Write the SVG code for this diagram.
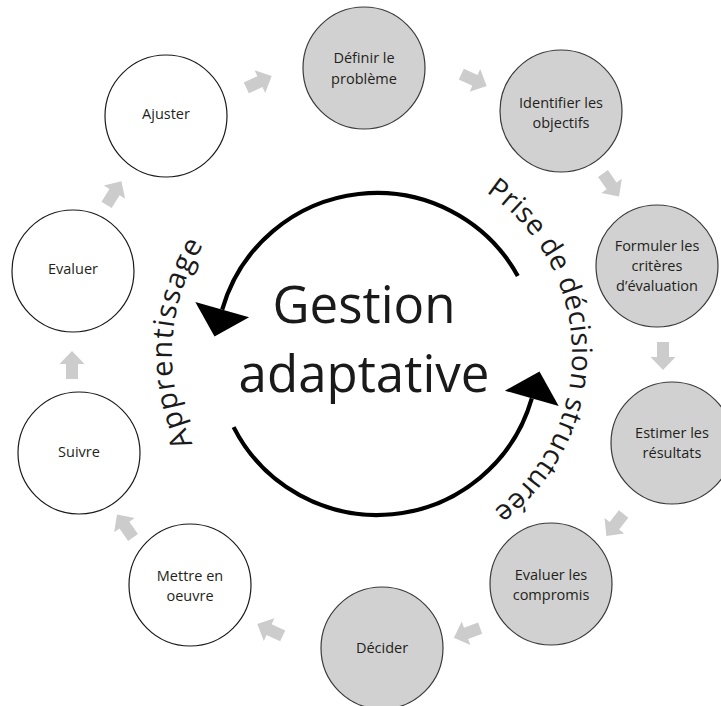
<svg xmlns="http://www.w3.org/2000/svg" xmlns:xlink="http://www.w3.org/1999/xlink" width="721" height="706" viewBox="0 0 721 706">
<style>
.w{fill:#ffffff;stroke:#1a1a1a;stroke-width:1.2}
.g{fill:#d1d1d1;stroke:#3a3a3a;stroke-width:1.2}
.t{font-family:'Open Sans','Noto Sans',sans-serif;font-size:14.5px;fill:#231f20;text-anchor:middle}
.big{font-family:'Open Sans','Noto Sans',sans-serif;font-size:51px;fill:#1a1a1a;text-anchor:middle}
.arc{font-family:'Open Sans','Noto Sans',sans-serif;font-size:28px;fill:#1a1a1a}
.ring{fill:none;stroke:#000;stroke-width:4.2}
.ga{fill:#cccccc}
</style>
<defs>
<polygon id="ga" points="-14,-6 1,-6 1,-12.5 14,0 1,12.5 1,6 -14,6"/>
<path id="prisePath" d="M 486 192.3 A 195 195 0 0 1 474.5 522.9"/>
<path id="apprPath" d="M 192.75 443.87 A 205 205 0 0 1 219.96 222.23"/>
</defs>
<rect width="721" height="706" fill="#ffffff"/>

<g id="connectors">
<g class="ga">
<use xlink:href="#ga" transform="translate(259,82) rotate(-25)"/>
<use xlink:href="#ga" transform="translate(474,80) rotate(25)"/>
<use xlink:href="#ga" transform="translate(611,185) rotate(55)"/>
<use xlink:href="#ga" transform="translate(663,356) rotate(90)"/>
<use xlink:href="#ga" transform="translate(615,525) rotate(128)"/>
<use xlink:href="#ga" transform="translate(467,633) rotate(160)"/>
<use xlink:href="#ga" transform="translate(270,630) rotate(205)"/>
<use xlink:href="#ga" transform="translate(125,526) rotate(235)"/>
<use xlink:href="#ga" transform="translate(72,365) rotate(270)"/>
<use xlink:href="#ga" transform="translate(114,193) rotate(302)"/>
</g>
<path class="ring" d="M 517.8 275.9 A 161 161 0 0 0 222.2 309.6"/>
<polygon points="195.3,301.9 249.1,317.3 214.5,336.5" fill="#000"/>
<path class="ring" d="M 233.6 427.1 A 161 161 0 0 0 531.8 398.4"/>
<polygon points="504.9,390.7 558.7,406.1 539.5,371.5" fill="#000"/>
</g>

<g id="center-title">
<text class="big" x="364" y="323">Gestion</text>
<text class="big" x="364" y="392">adaptative</text>
</g>
<g id="label-prise">
<text class="arc"><textPath xlink:href="#prisePath" textLength="372" lengthAdjust="spacing">Prise de décision structurée</textPath></text>
</g>
<g id="label-apprentissage">
<text class="arc" style="font-size:29px"><textPath xlink:href="#apprPath" textLength="208" lengthAdjust="spacing">Apprentissage</textPath></text>
</g>

<g id="node-definir"><circle class="g" cx="364" cy="68" r="61"/><text class="t" x="364" y="63">Définir le</text><text class="t" x="364" y="84">problème</text></g>
<g id="node-identifier"><circle class="g" cx="561" cy="111" r="61"/><text class="t" x="561" y="108">Identifier les</text><text class="t" x="561" y="128">objectifs</text></g>
<g id="node-formuler"><circle class="g" cx="657" cy="266" r="61"/><text class="t" x="657" y="251">Formuler les</text><text class="t" x="657" y="271">critères</text><text class="t" x="657" y="291">d’évaluation</text></g>
<g id="node-estimer"><circle class="g" cx="672" cy="443" r="61"/><text class="t" x="672" y="438">Estimer les</text><text class="t" x="672" y="458">résultats</text></g>
<g id="node-compromis"><circle class="g" cx="551" cy="584" r="61"/><text class="t" x="551" y="580">Evaluer les</text><text class="t" x="551" y="600">compromis</text></g>
<g id="node-decider"><circle class="g" cx="382" cy="648" r="61"/><text class="t" x="382" y="653">Décider</text></g>
<g id="node-mettre"><circle class="w" cx="190" cy="585" r="61"/><text class="t" x="190" y="581">Mettre en</text><text class="t" x="190" y="601">oeuvre</text></g>
<g id="node-suivre"><circle class="w" cx="79" cy="453" r="61"/><text class="t" x="79" y="457">Suivre</text></g>
<g id="node-evaluer"><circle class="w" cx="73" cy="271" r="61"/><text class="t" x="73" y="274">Evaluer</text></g>
<g id="node-ajuster"><circle class="w" cx="166" cy="116" r="61"/><text class="t" x="166" y="119">Ajuster</text></g>
</svg>
